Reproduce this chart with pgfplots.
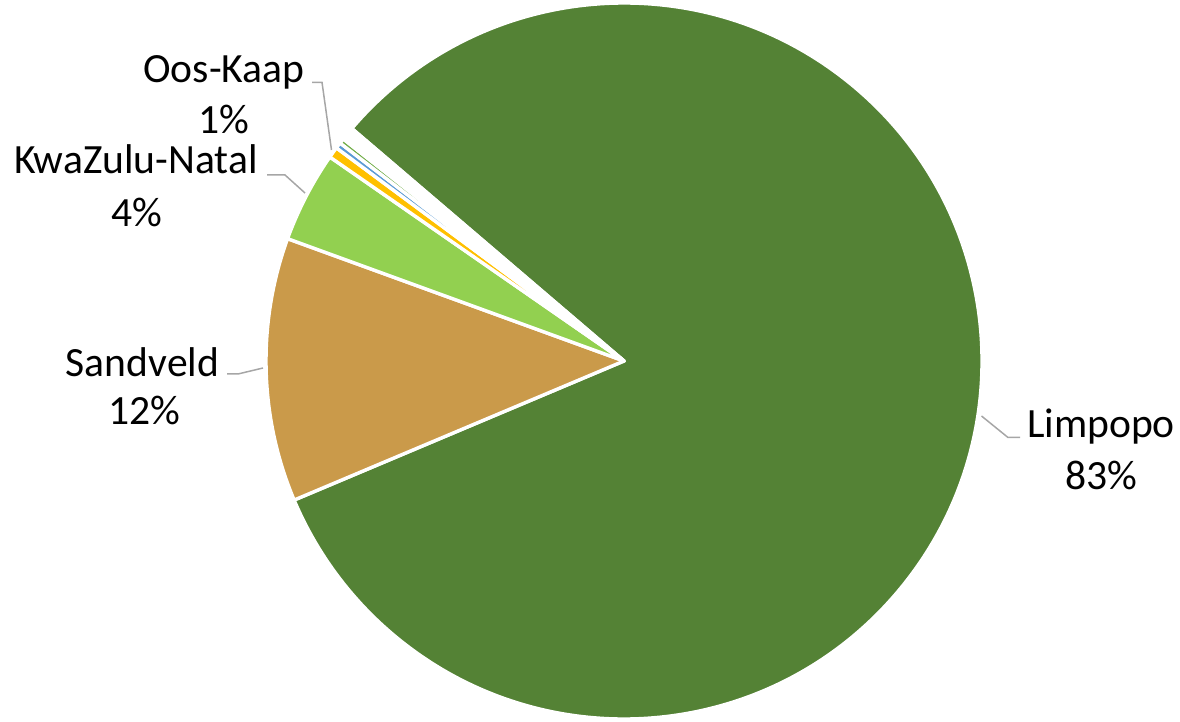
\documentclass[border=0pt]{standalone}
\usepackage{pgfplots}
\pgfplotsset{compat=1.18}
\usepackage{pgfplotstable}
\usepackage{fontspec}
\setmainfont{Carlito}

\definecolor{cLim}{HTML}{548235}
\definecolor{cSand}{HTML}{CA9A4A}
\definecolor{cKzn}{HTML}{92D050}
\definecolor{cOos}{HTML}{FFC000}
\definecolor{cBlue}{HTML}{5B9BD5}
\definecolor{cGreen}{HTML}{70AD47}
\definecolor{cLead}{HTML}{A6A6A6}

% share of each region, in the order Excel draws them (clockwise)
\pgfplotstableread{
region pct col
Limpopo 82.4 cLim
Sandveld 11.9 cSand
KwaZulu-Natal 4.1 cKzn
Oos-Kaap 0.5 cOos
Other1 0.27 cBlue
Other2 0.23 cGreen
Other3 0.6 white
}\piedata

\begin{document}
\begin{tikzpicture}[lbl/.style={anchor=base, inner sep=0pt, font=\fontsize{20.8bp}{26bp}\selectfont}]
\begin{axis}[
  name=ax,
  x=0.5bp, y=0.5bp,
  xmin=0, xmax=1180, ymin=0, ymax=721,
  hide axis, clip=false,
]
\pgfplotsextra{
  \gdef\a{139.5}
  \foreach \i in {0,...,6}{
    \pgfplotstablegetelem{\i}{pct}\of\piedata \let\p\pgfplotsretval
    \pgfplotstablegetelem{\i}{col}\of\piedata \let\c\pgfplotsretval
    \pgfmathsetmacro\b{\a-3.6*\p}
    \pgfmathsetmacro\xa{624+358*cos(\a)}
    \pgfmathsetmacro\ya{360+358*sin(\a)}
    \filldraw[fill=\c, draw=white, line width=1.7bp, line join=round]
      (axis cs:624,360) -- (axis cs:\xa,\ya)
      arc[start angle=\a, end angle=\b, radius=179bp] -- cycle;
    \global\let\a\b
  }
}
% leader lines
\draw[cLead, line width=0.75bp] (axis cs:981.5,305) -- (axis cs:1008,283.5) -- (axis cs:1020,283.5);
\draw[cLead, line width=0.75bp] (axis cs:263,353) -- (axis cs:238,347) -- (axis cs:227,347);
\draw[cLead, line width=0.75bp] (axis cs:305,528) -- (axis cs:285,546) -- (axis cs:267,546);
\draw[cLead, line width=0.75bp] (axis cs:331.5,571) -- (axis cs:322,638.7) -- (axis cs:312,638.7);
% labels
\node[lbl] at (axis cs:1101,283.7) {Limpopo};
\node[lbl] at (axis cs:1101,231.7) {83\%};
\node[lbl] at (axis cs:142.5,344.3) {Sandveld};
\node[lbl] at (axis cs:144,296) {12\%};
\node[lbl] at (axis cs:136,547) {KwaZulu-Natal};
\node[lbl] at (axis cs:137,494.3) {4\%};
\node[lbl] at (axis cs:224,638.3) {Oos-Kaap};
\node[lbl] at (axis cs:224,587) {1\%};
\end{axis}
\pgfresetboundingbox
\path[use as bounding box] (ax.south west) rectangle (ax.north east);
\end{tikzpicture}
\end{document}
